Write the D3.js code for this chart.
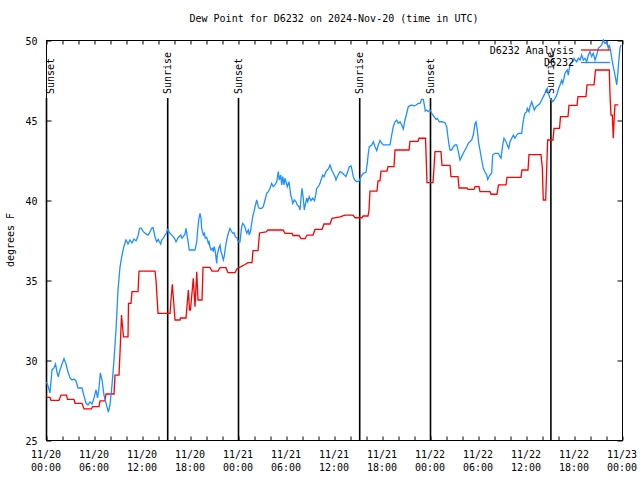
<!DOCTYPE html>
<html><head><meta charset="utf-8">
<script src="https://cdn.jsdelivr.net/npm/d3@7"></script>
<style>
body{margin:0;background:#fff;}
text{font-family:"DejaVu Sans Mono","Liberation Mono",monospace;font-size:10px;fill:#000;}
</style></head>
<body>
<svg id="chart" width="640" height="480"></svg>
<script>
// ---- data (hours since 2024-11-20 00:00 UTC, dew point degrees F) ----
const title = "Dew Point for D6232 on 2024-Nov-20 (time in UTC)";
const yLabel = "degrees F";
const xTickDates = ["11/20","11/20","11/20","11/20","11/21","11/21","11/21","11/21","11/22","11/22","11/22","11/22","11/23"];
const xTickTimes = ["00:00","06:00","12:00","18:00","00:00","06:00","12:00","18:00","00:00","06:00","12:00","18:00","00:00"];
const yTicks = [25,30,35,40,45,50];
const sunEvents = [
  {h:0, label:"Sunset"},{h:15.15,label:"Sunrise"},{h:24.0,label:"Sunset"},
  {h:39.15,label:"Sunrise"},{h:48.0,label:"Sunset"},{h:63.05,label:"Sunrise"}];
const seriesNames = ["D6232 Analysis","D6232"];

const analysisData = [
[0.06,27.66],[0.5,27.66],[0.625,27.48],[1.625,27.48],[1.875,27.81],[2.56,27.81],[2.69,27.54],[3.5,27.54],
[3.625,27.29],[4.5,27.29],[4.75,26.94],[5.69,26.94],[5.81,27.08],[6.625,27.08],[6.75,27.44],[7.375,27.44],
[7.5,27.875],[8.5,27.875],[8.625,29.06],[9.125,29.06],[9.25,30.44],[9.44,32.81],[9.56,32.125],[9.69,31.44],
[10.25,31.44],[10.31,33.54],[10.625,33.54],[10.75,34.27],[11.5,34.27],[11.625,35.56],[13.625,35.56],[13.75,35.0],
[14.0,32.92],[15.5,32.92],[15.625,33.75],[15.79,34.73],[15.94,33.75],[16.125,32.5],[16.75,32.5],[16.81,32.625],
[17.5,32.625],[17.79,34.375],[17.94,33.125],[18.06,33.125],[18.41,35.11],[18.625,33.33],[18.84,35.52],[19.0,33.75],
[19.5,33.75],[19.625,35.79],[20.5,35.79],[20.75,35.56],[21.5,35.56],[21.75,35.77],[22.5,35.77],[22.75,35.46],
[23.625,35.46],[23.875,35.69],[24.375,35.84],[24.875,35.97],[25.25,36.08],[25.75,36.08],[25.875,36.84],[26.5,36.84],
[26.69,37.94],[27.5,38.0],[27.75,38.125],[29.625,38.125],[29.875,37.91],[30.75,37.91],[30.875,37.78],[31.625,37.78],
[31.875,37.59],[32.375,37.59],[32.625,37.81],[33.375,37.81],[33.625,38.16],[34.5,38.16],[34.75,38.5],[35.5,38.5],
[35.75,38.86],[36.75,38.94],[37.375,39.06],[38.375,39.06],[38.625,38.89],[39.5,38.89],[39.625,39.0],[40.25,39.0],
[40.375,39.375],[40.5,40.56],[41.375,40.56],[41.5,41.19],[41.75,41.19],[41.875,41.81],[42.625,41.81],[42.75,42.09],
[43.5,42.09],[43.625,43.125],[45.375,43.125],[45.5,43.66],[46.5,43.66],[46.625,43.86],[47.44,43.86],[47.625,41.08],
[48.375,41.08],[48.625,43.02],[49.375,43.02],[49.5,42.17],[50.5,42.17],[50.625,41.46],[51.5,41.46],[51.625,40.75],
[52.625,40.75],[52.75,40.66],[53.5,40.66],[53.625,40.84],[54.125,40.84],[54.25,40.52],[55.5,40.52],[55.625,40.36],
[56.375,40.36],[56.56,40.94],[57.5,40.94],[57.625,41.42],[59.375,41.42],[59.5,41.875],[60.25,41.875],[60.375,42.84],
[61.875,42.84],[62.04,42.0],[62.16,40.0],[62.46,40.0],[62.59,42.0],[62.71,43.75],[63.375,43.75],[63.5,44.48],
[64.19,44.48],[64.31,45.21],[65.25,45.21],[65.375,45.91],[66.375,45.91],[66.5,46.46],[67.5,46.46],[67.625,47.19],
[68.5,47.19],[68.69,48.125],[70.41,48.125],[70.5,46.56],[70.625,45.31],[70.79,45.31],[70.91,43.86],[71.04,45.31],
[71.125,45.94],[71.54,45.94]];

const observedData = [
[0.06,28.63],[0.25,28.38],[0.5,27.94],[0.75,29.38],[1.0,29.5],[1.19,29.75],[1.375,29.25],[1.54,28.94],[1.75,29.38],
[2.0,29.75],[2.25,30.09],[2.5,29.75],[2.75,29.25],[3.0,28.88],[3.25,28.75],[3.5,28.81],[3.75,28.69],[4.0,28.25],
[4.5,28.25],[4.75,27.75],[5.0,27.31],[5.25,27.19],[5.5,27.38],[5.75,27.25],[6.0,27.63],[6.25,28.13],[6.44,27.63],
[6.625,28.25],[6.79,29.19],[7.0,28.75],[7.25,27.81],[7.5,27.31],[7.79,26.75],[8.0,27.19],[8.25,28.44],[8.5,30.0],
[8.75,31.88],[9.0,34.38],[9.25,35.81],[9.5,36.56],[9.75,37.13],[10.0,37.5],[10.25,37.25],[10.5,37.5],[10.75,37.31],
[11.0,37.56],[11.25,37.44],[11.5,37.75],[11.69,38.22],[11.875,38.25],[12.16,38.02],[12.5,37.88],[12.75,37.81],
[12.94,37.94],[13.21,38.23],[13.375,38.28],[13.5,38.0],[13.625,37.69],[13.84,37.39],[14.04,37.54],[14.16,37.39],
[14.34,37.25],[14.46,37.5],[14.66,37.61],[14.875,37.81],[15.09,37.96],[15.16,38.17],[15.29,38.08],[15.5,37.92],
[15.71,37.81],[15.91,37.71],[16.125,37.54],[16.25,37.39],[16.41,37.54],[16.54,37.67],[16.66,37.71],[16.84,37.81],
[17.0,37.61],[17.16,37.71],[17.375,37.88],[17.5,38.23],[17.66,37.71],[17.79,37.29],[17.91,36.875],[18.625,36.875],
[18.84,37.39],[18.96,38.125],[19.09,38.75],[19.25,39.17],[19.375,38.86],[19.46,38.23],[19.66,37.81],[19.79,37.92],
[19.91,37.61],[20.09,37.67],[20.29,37.29],[20.375,37.39],[20.5,37.08],[20.625,36.875],[20.84,36.98],[20.91,36.77],
[21.04,37.08],[21.16,36.77],[21.34,36.04],[21.41,36.56],[21.59,36.98],[21.75,37.19],[21.875,36.77],[22.0,36.56],
[22.16,36.25],[22.29,36.5],[22.375,36.875],[22.59,37.5],[22.79,37.92],[23.0,38.23],[23.21,38.02],[23.34,37.92],
[23.5,37.96],[23.66,37.71],[23.91,37.61],[24.04,37.39],[24.25,37.39],[24.34,37.81],[24.46,38.33],[24.59,38.54],
[24.75,38.44],[24.91,38.23],[25.09,37.92],[25.29,38.125],[25.41,37.81],[25.59,38.125],[25.71,38.54],[25.84,38.96],
[26.0,39.27],[26.125,39.58],[26.34,40.0],[26.54,39.58],[26.66,39.48],[26.96,39.48],[27.16,39.58],[27.375,40.0],
[27.59,40.42],[27.79,40.52],[28.0,40.73],[28.21,41.04],[28.41,40.83],[28.625,40.94],[28.84,41.14],[29.04,41.77],
[29.16,41.25],[29.34,41.56],[29.46,40.94],[29.59,41.46],[29.75,40.94],[29.875,41.36],[30.0,41.14],[30.16,40.83],
[30.375,41.14],[30.59,40.31],[30.71,40.11],[30.84,39.79],[31.04,40.0],[31.25,39.89],[31.41,39.69],[31.625,39.58],
[31.75,39.375],[31.875,40.11],[32.0,40.73],[32.16,40.11],[32.29,39.375],[32.41,39.69],[32.59,40.11],[32.71,39.89],
[32.91,40.21],[33.125,39.96],[33.34,40.11],[33.54,39.96],[33.71,40.31],[33.84,40.73],[34.04,40.83],[34.25,41.04],
[34.375,41.25],[34.59,41.56],[34.75,41.46],[35.0,41.77],[35.16,41.875],[35.34,41.98],[35.5,42.19],[35.71,41.875],
[35.91,41.67],[36.125,41.46],[36.25,41.25],[36.41,41.46],[36.625,41.67],[36.75,41.77],[37.09,41.67],[37.29,41.56],
[37.5,41.46],[37.71,41.77],[37.91,42.08],[38.125,42.125],[38.25,41.875],[38.41,41.46],[38.59,41.25],[38.84,41.14],
[39.16,41.20],[39.375,41.46],[39.66,41.67],[40.0,41.73],[40.16,42.29],[40.29,42.92],[40.41,43.33],[40.71,43.44],
[40.91,43.64],[41.125,43.33],[41.34,43.09],[41.54,43.44],[41.75,43.72],[41.96,43.56],[42.16,43.44],[42.79,43.44],
[43.0,43.44],[43.21,44.06],[43.41,44.58],[43.625,44.89],[43.84,45.0],[44.04,44.79],[44.25,44.89],[44.46,44.69],
[44.66,44.44],[44.875,45.0],[45.09,45.42],[45.29,45.84],[45.71,45.94],[46.0,45.875],[46.25,45.94],[46.54,46.04],
[46.75,46.04],[46.96,46.29],[47.16,46.29],[47.29,45.94],[47.41,45.56],[47.59,45.625],[47.79,45.52],[48.0,45.625],
[48.21,45.42],[48.5,45.21],[48.75,45.04],[48.91,45.10],[49.16,44.89],[49.5,44.89],[49.875,44.83],[50.09,44.58],
[50.21,44.06],[50.375,43.44],[50.5,43.125],[50.71,43.125],[50.91,43.33],[51.125,43.44],[51.34,43.44],[51.54,43.02],
[51.75,42.5],[51.96,42.71],[52.16,42.92],[52.375,43.125],[52.59,43.33],[52.79,43.54],[53.0,43.64],[53.21,43.75],
[53.41,44.06],[53.625,44.79],[53.75,44.89],[53.91,44.375],[54.09,43.54],[54.25,43.125],[54.46,42.5],[54.66,41.98],
[54.875,41.75],[55.09,41.56],[55.21,41.28],[55.41,41.5],[55.71,41.69],[55.84,42.81],[56.125,42.92],[56.54,42.92],
[56.75,42.71],[56.875,42.61],[57.09,43.44],[57.25,43.86],[57.5,43.64],[57.66,43.44],[57.84,43.23],[58.0,43.64],
[58.21,43.86],[58.41,44.06],[58.625,43.86],[58.84,44.06],[59.04,44.17],[59.46,44.17],[59.59,44.69],[59.75,45.21],
[59.875,45.42],[60.09,45.52],[60.16,45.73],[60.375,45.52],[60.5,45.83],[60.71,46.14],[60.91,45.83],[61.04,45.625],
[61.25,45.83],[61.54,45.94],[61.75,46.04],[61.96,46.25],[62.16,46.46],[62.375,46.67],[62.5,46.875],[62.66,46.98],
[62.79,46.67],[63.0,46.36],[63.34,46.14],[63.5,46.25],[63.75,46.46],[63.91,46.67],[64.09,46.98],[64.25,47.19],
[64.46,47.5],[64.59,47.29],[64.75,47.61],[64.875,47.92],[65.0,48.02],[65.16,48.125],[65.29,47.81],[65.41,48.23],
[65.59,48.54],[65.84,48.64],[66.0,48.86],[66.125,48.75],[66.34,48.64],[66.54,48.86],[66.75,48.75],[66.96,49.06],
[67.16,48.75],[67.375,48.86],[67.59,48.64],[67.79,49.06],[68.0,49.27],[68.21,48.96],[68.41,49.17],[68.625,48.75],
[68.84,49.06],[69.04,49.48],[69.25,49.58],[69.46,49.69],[69.66,50.0],[69.875,49.79],[70.09,49.89],[70.29,49.48],
[70.41,49.69],[70.59,49.27],[70.71,48.86],[70.91,48.33],[71.125,47.81],[71.34,47.19],[71.46,47.81],[71.59,48.64],
[71.75,49.48],[71.875,49.69]];

// ---- layout ----
const svg = d3.select("#chart");
const M = {left:46, right:622, top:40, bottom:440};
const x = d3.scaleLinear().domain([0,72]).range([M.left, M.right]);
const y = d3.scaleLinear().domain([25,50]).range([M.bottom, M.top]);

svg.append("rect").attr("width",640).attr("height",480).attr("fill","#fff");

// title
svg.append("text").attr("x",(M.left+M.right)/2).attr("y",22).attr("text-anchor","middle").text(title);

// y label
svg.append("text").attr("transform","translate(14,240) rotate(-90)").attr("text-anchor","middle").text(yLabel);

// frame
svg.append("rect").attr("x",M.left+0.5).attr("y",M.top+0.5).attr("width",M.right-M.left).attr("height",M.bottom-M.top)
  .attr("fill","none").attr("stroke","#000").attr("stroke-width",1);

// x ticks every 2h (bottom and top, inward)
const minor = d3.range(0,73,2);
const bottomAxis = d3.axisBottom(x).tickValues(minor).tickSize(-4).tickFormat("");
svg.append("g").attr("transform",`translate(0.5,${M.bottom+0.5})`).call(bottomAxis).call(g=>g.select(".domain").remove());
const topAxis = d3.axisTop(x).tickValues(minor).tickSize(-4).tickFormat("");
svg.append("g").attr("transform",`translate(0.5,${M.top+0.5})`).call(topAxis).call(g=>g.select(".domain").remove());

// x tick labels (two lines)
const xl = svg.append("g");
xTickDates.forEach((d,i)=>{
  const h = i*6;
  const t = xl.append("text").attr("x",x(h)).attr("y",458).attr("text-anchor","middle");
  t.append("tspan").attr("x",x(h)).attr("dy",0).text(d);
  t.append("tspan").attr("x",x(h)).attr("dy",13).text(xTickTimes[i]);
});

// y ticks (left and right, inward)
const leftAxis = d3.axisLeft(y).tickValues(yTicks).tickSize(-5).tickPadding(9).tickFormat(d3.format("d"));
svg.append("g").attr("transform",`translate(${M.left+0.5},0.5)`).call(leftAxis)
  .call(g=>g.select(".domain").remove())
  .call(g=>g.selectAll("text").attr("font-family",null).attr("font-size",null).attr("dy","0.35em"));
const rightAxis = d3.axisRight(y).tickValues(yTicks).tickSize(-5).tickFormat("");
svg.append("g").attr("transform",`translate(${M.right+0.5},0.5)`).call(rightAxis).call(g=>g.select(".domain").remove());
svg.selectAll(".tick line").attr("stroke","#000");

// sun lines
const sun = svg.append("g");
sunEvents.forEach(s=>{
  sun.append("line").attr("x1",x(s.h)+0.5).attr("x2",x(s.h)+0.5).attr("y1",98).attr("y2",M.bottom)
    .attr("stroke","#000").attr("stroke-width",1.6);
  const lx = Math.max(x(s.h)+4, M.left+8);
  sun.append("text").attr("transform",`translate(${lx},94) rotate(-90)`).attr("text-anchor","start").text(s.label);
});

// series
const line = d3.line().x(d=>x(d[0])).y(d=>y(d[1]));
svg.append("path").datum(analysisData).attr("d",line).attr("fill","none").attr("stroke","#ff0000").attr("stroke-width",1.3);
svg.append("path").datum(observedData).attr("d",line).attr("fill","none").attr("stroke","#1e90ff").attr("stroke-width",1.3);

// legend
const lg = svg.append("g");
const colors = ["#ff0000","#1e90ff"];
seriesNames.forEach((n,i)=>{
  const yy = 50 + i*12.5;
  lg.append("text").attr("x",574).attr("y",yy).attr("dy","0.35em").attr("text-anchor","end").text(n);
  lg.append("line").attr("x1",581).attr("x2",610).attr("y1",yy).attr("y2",yy).attr("stroke",colors[i]).attr("stroke-width",1.3);
});
</script>
</body></html>
